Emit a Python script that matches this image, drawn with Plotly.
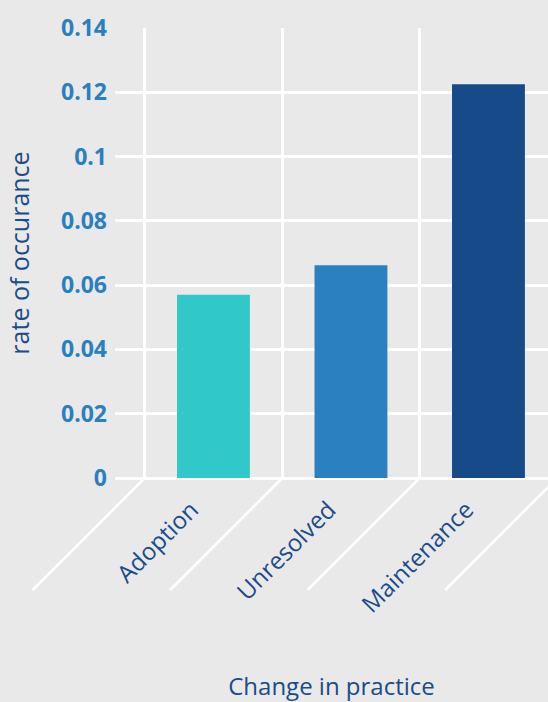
import plotly.graph_objects as go

# Rate of occurrence by change-in-practice category
categories = ["Adoption", "Unresolved", "Maintenance"]
rates = [0.057, 0.0662, 0.1225]
bar_colors = ["#30c8c8", "#2b80c0", "#164a89"]
y_ticks = [0, 0.02, 0.04, 0.06, 0.08, 0.1, 0.12, 0.14]
y_tick_text = ["0", "0.02", "0.04", "0.06", "0.08", "0.1", "0.12", "0.14"]

BG = "#e9e9e9"
LABEL_BLUE = "#2a7fc0"
TITLE_BLUE = "#1b4b8a"

x_range = [-0.716, 2.433]
y_range = [0, 0.14]

fig = go.Figure(
    go.Bar(
        x=categories,
        y=rates,
        marker=dict(color=bar_colors, line=dict(width=0)),
        width=0.53,
        hoverinfo="x+y",
    )
)

# Perspective "floor" lines running down-left from each category boundary
plot_w = 548 - 115
plot_h = 478 - 28
floor_px = 112
shapes = []
for b in [-0.5, 0.5, 1.5, 2.5]:
    px = (b - x_range[0]) / (x_range[1] - x_range[0])
    shapes.append(dict(
        type="line", xref="paper", yref="paper",
        x0=px, y0=0, x1=px - floor_px / plot_w, y1=-floor_px / plot_h,
        line=dict(color="white", width=2.5), layer="below",
    ))

fig.update_layout(
    width=548, height=702,
    margin=dict(l=115, r=0, t=28, b=224),
    paper_bgcolor=BG, plot_bgcolor=BG,
    showlegend=False,
    shapes=shapes,
    xaxis=dict(
        type="category",
        range=x_range,
        tickson="boundaries",
        showgrid=True, gridcolor="white", gridwidth=2.5,
        ticks="", zeroline=False, showline=False,
        tickangle=-45,
        ticklabelstandoff=12, ticklabelshift=-22,
        tickfont=dict(family="Open Sans", size=24, color=TITLE_BLUE),
        title=dict(text="Change in practice", standoff=66,
                   font=dict(family="Open Sans", size=24, color=TITLE_BLUE)),
        automargin=False,
    ),
    yaxis=dict(
        range=y_range,
        tickvals=y_ticks, ticktext=y_tick_text,
        showgrid=True, gridcolor="white", gridwidth=2.5,
        zeroline=True, zerolinecolor="white", zerolinewidth=2.5,
        ticks="", ticklen=0, showline=False,
        ticklabelstandoff=7,
        tickfont=dict(family="Open Sans", size=23, color=LABEL_BLUE, weight="bold"),
        title=dict(text="rate of occurance", standoff=24,
                   font=dict(family="Open Sans", size=25, color=TITLE_BLUE)),
        automargin=False,
    ),
)

fig.write_html("out.html")
